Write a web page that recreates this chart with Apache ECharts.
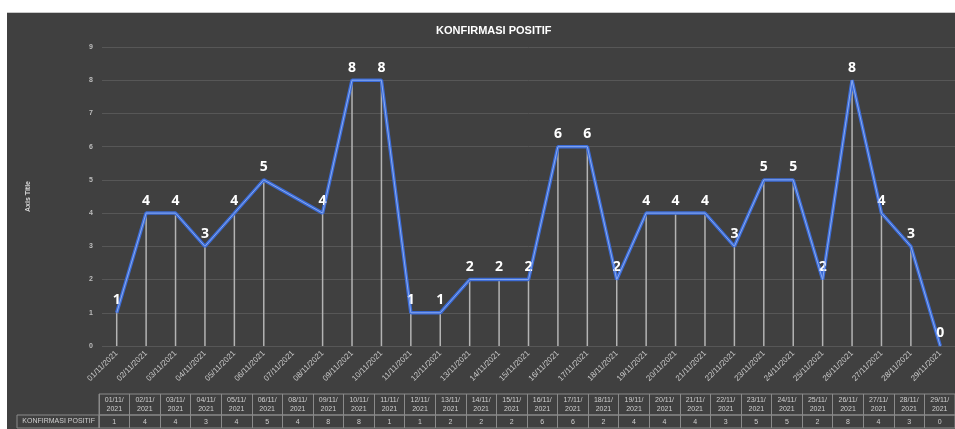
<!DOCTYPE html>
<html><head><meta charset="utf-8">
<script src="https://cdn.jsdelivr.net/npm/echarts@6/dist/echarts.min.js"></script>
<style>
html,body{margin:0;padding:0;background:#fff;width:955px;height:429px;overflow:hidden;}
#c{position:absolute;left:7px;top:12px;width:948px;height:417px;border-top:1px solid #c9c9c9;box-sizing:border-box;}
</style></head><body><div id="c"></div>
<script>
// Axis tick labels (date axis includes 07/11 which has no data)
const axisDates = ['01/11/2021','02/11/2021','03/11/2021','04/11/2021','05/11/2021','06/11/2021','07/11/2021','08/11/2021','09/11/2021','10/11/2021','11/11/2021','12/11/2021','13/11/2021','14/11/2021','15/11/2021','16/11/2021','17/11/2021','18/11/2021','19/11/2021','20/11/2021','21/11/2021','22/11/2021','23/11/2021','24/11/2021','25/11/2021','26/11/2021','27/11/2021','28/11/2021','29/11/2021'];
// Dates with data
const dates = ['01/11/2021','02/11/2021','03/11/2021','04/11/2021','05/11/2021','06/11/2021','08/11/2021','09/11/2021','10/11/2021','11/11/2021','12/11/2021','13/11/2021','14/11/2021','15/11/2021','16/11/2021','17/11/2021','18/11/2021','19/11/2021','20/11/2021','21/11/2021','22/11/2021','23/11/2021','24/11/2021','25/11/2021','26/11/2021','27/11/2021','28/11/2021','29/11/2021'];
const values = [1,4,4,3,4,5,4,8,8,1,1,2,2,2,6,6,2,4,4,4,3,5,5,2,8,4,3,0];
const seriesName = 'KONFIRMASI POSITIF';
const titleText = 'KONFIRMASI POSITIF';
const yAxisTitle = 'Axis Title';
const yMin = 0, yMax = 9, yStep = 1;

const pairs = dates.map((d, i) => [d, values[i]]);
const font = 'Liberation Sans, Arial, sans-serif';
const tblColor = '#8a8a8a';
const txt = '#cfcfcf';

const chart = echarts.init(document.getElementById('c'));
chart.setOption({
  backgroundColor: '#404040',
  animation: false,
  title: {
    text: titleText, left: 424, top: 7,
    textStyle: {color: '#ffffff', fontSize: 11, fontWeight: 'bold', fontFamily: font}
  },
  grid: [
    {left: 95, top: 34, width: 860, height: 299},
    {left: 92, top: 381, width: 862, height: 21, show: true, borderColor: tblColor, borderWidth: 1, backgroundColor: 'transparent'},
    {left: 92, top: 402, width: 862, height: 13, show: true, borderColor: tblColor, borderWidth: 1, backgroundColor: 'transparent'},
    {left: 10, top: 402, width: 82, height: 13, show: true, borderColor: tblColor, borderWidth: 1, backgroundColor: 'transparent'}
  ],
  xAxis: [
    {
      gridIndex: 0, type: 'category', data: axisDates, boundaryGap: true,
      axisLine: {show: false}, axisTick: {show: false}, splitLine: {show: false},
      axisLabel: {rotate: 45, interval: 0, fontSize: 8, margin: 6, color: '#c8c8c8', fontFamily: font}
    },
    {
      gridIndex: 1, type: 'category', data: dates, position: 'top', boundaryGap: true,
      axisLine: {show: false}, axisTick: {show: false},
      splitLine: {show: true, interval: 0, lineStyle: {color: tblColor, width: 1}},
      axisLabel: {inside: true, interval: 0, margin: 2, fontSize: 7, lineHeight: 9, color: txt, fontFamily: font,
        formatter: v => v.slice(0, 6) + '\n' + v.slice(6)}
    },
    {
      gridIndex: 2, type: 'category', data: dates, position: 'bottom', boundaryGap: true,
      axisLine: {show: false}, axisTick: {show: false},
      splitLine: {show: true, interval: 0, lineStyle: {color: tblColor, width: 1}},
      axisLabel: {inside: true, interval: 0, margin: 2, fontSize: 7, color: txt, fontFamily: font,
        formatter: (v, i) => String(values[i])}
    },
    {gridIndex: 3, type: 'category', data: [''], show: false}
  ],
  yAxis: [
    {
      gridIndex: 0, type: 'value', min: yMin, max: yMax, interval: yStep,
      name: yAxisTitle, nameLocation: 'middle', nameGap: 70, nameRotate: 90,
      nameTextStyle: {color: '#d9d9d9', fontSize: 7, fontWeight: 'bold', fontFamily: font},
      axisLine: {show: false}, axisTick: {show: false},
      splitLine: {lineStyle: {color: '#575757', width: 1}},
      axisLabel: {fontSize: 7, margin: 9, color: '#bdbdbd', fontWeight: 'bold', fontFamily: font}
    },
    {gridIndex: 1, type: 'value', show: false},
    {
      gridIndex: 2, type: 'category', data: [seriesName],
      axisLine: {show: false}, axisTick: {show: false},
      axisLabel: {margin: 4, fontSize: 7, color: txt, fontFamily: font}
    },
    {gridIndex: 3, type: 'value', show: false}
  ],
  series: [
    {
      type: 'bar', name: 'drop', xAxisIndex: 0, yAxisIndex: 0, data: pairs,
      barWidth: 1.5, itemStyle: {color: '#b4b4b4'}, silent: true, z: 1
    },
    {
      type: 'line', name: 'hl', xAxisIndex: 0, yAxisIndex: 0, data: pairs,
      symbol: 'none', lineStyle: {color: '#8aaaf0', width: 1}, z: 4, silent: true
    },
    {
      type: 'line', name: seriesName, xAxisIndex: 0, yAxisIndex: 0, data: pairs,
      symbol: 'circle', symbolSize: 1, showSymbol: true, itemStyle: {color: '#3b6bd6'},
      lineStyle: {color: '#3b6bd6', width: 3.5}, z: 3,
      label: {show: true, position: 'top', distance: 5, color: '#ffffff', fontSize: 14, fontWeight: 'bold', fontFamily: 'Open Sans, Liberation Sans, sans-serif'},
      labelLayout: {hideOverlap: false}
    }
  ]
});
</script></body></html>
